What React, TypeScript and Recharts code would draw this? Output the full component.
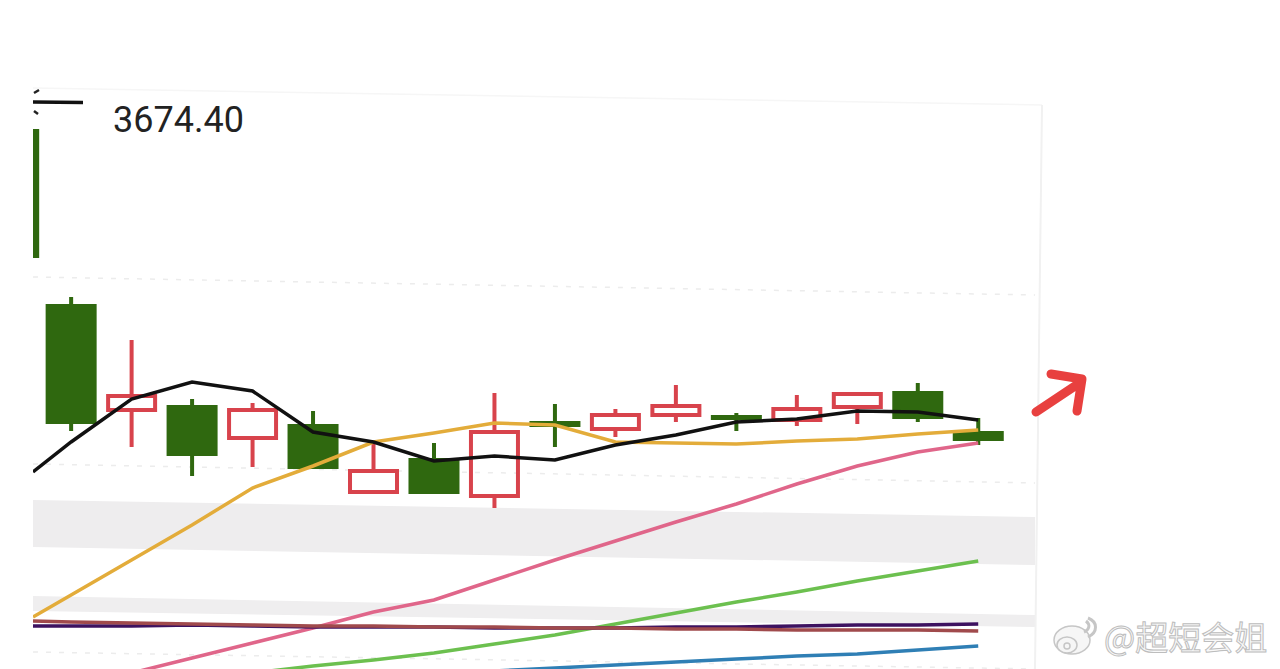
import { Area, Bar, ComposedChart, Line, XAxis, YAxis } from 'recharts'

const candleIndex = [-0.95, 0, 1, 2, 3, 4, 5, 6, 7, 8, 9, 10, 11, 12, 13, 14, 15]
const highs = [3669, 3585, 3563.5, 3534, 3532, 3528, 3512, 3512, 3537, 3531.5, 3529, 3541, 3527, 3536, 3537.5, 3542, 3524.5]
const opens = [3669, 3581.5, 3527.5, 3531, 3513.5, 3521.5, 3486.5, 3504.5, 3484.5, 3523, 3518, 3525, 3526, 3522.5, 3529, 3538, 3518]
const closes = [3604.5, 3521.5, 3536.5, 3505.5, 3529.5, 3499, 3499, 3486.5, 3518.5, 3520, 3527, 3531.5, 3523.5, 3530, 3537.5, 3524, 3513]
const lows = [3604.5, 3518, 3510, 3495.5, 3500, 3499, 3486.5, 3486.5, 3479.5, 3510, 3515, 3522.5, 3518, 3520.5, 3521.5, 3522.5, 3511]

const lineIndex = [-0.63, 0, 1, 2, 3, 4, 5, 6, 7, 8, 9, 10, 11, 12, 13, 14, 15]
const ma5 = [3497.5, 3512.5, 3534, 3542.5, 3538, 3517.5, 3512.5, 3503, 3505.5, 3503.5, 3511, 3516, 3522.5, 3524, 3528, 3527.5, 3523.5]
const ma10 = [3425, 3436, 3453.5, 3471, 3489.5, 3500.5, 3512.5, 3517, 3522, 3521, 3512.5, 3512, 3511.5, 3513, 3514, 3516.5, 3518.5]
const ma20 = [null, null, 3397, 3404.5, 3412, 3419.5, 3427.5, 3433.5, 3443.5, 3453.5, 3463, 3472.5, 3481.5, 3491.5, 3500.5, 3507.5, 3512]
const ma30 = [null, null, null, null, 3397, 3400.5, 3403.5, 3407, 3411.5, 3416, 3421.5, 3427, 3432.5, 3437.5, 3443, 3448, 3453]
const ma60 = [null, null, null, null, null, null, null, null, 3398, 3399.5, 3401, 3402.5, 3404, 3405.5, 3406.5, 3408.5, 3410.5]
const ma120 = [3420.5, 3420.5, 3420.5, 3421, 3420.5, 3420, 3420, 3420, 3419.5, 3419.5, 3419.5, 3420, 3420, 3420.5, 3421, 3421, 3421.5]
const ma250 = [3423, 3422.5, 3422, 3421.5, 3421, 3420.5, 3420.5, 3420, 3420, 3419.5, 3419.5, 3419, 3419, 3418.5, 3418.5, 3418.5, 3418]

// gray gaps and dashed price levels, left and right end of the panel
const edgeIndex = [-0.63, 15.94]
const gapUpper = [[3460, 3483.5], [3451, 3475]]
const gapLower = [[3428, 3435.5], [3420, 3426]]
const gridHigh = [3595, 3586]
const gridMid = [3501.5, 3492]
const gridLow = [3407.5, 3399]

const allIndex = [...new Set([...candleIndex, ...lineIndex, ...edgeIndex])].sort((a, b) => a - b)

const chartData = allIndex.map((x) => {
  const c = candleIndex.indexOf(x)
  const l = lineIndex.indexOf(x)
  const e = edgeIndex.indexOf(x)
  return {
    x,
    range: c >= 0 ? [lows[c], highs[c]] : null,
    open: c >= 0 ? opens[c] : null,
    close: c >= 0 ? closes[c] : null,
    high: c >= 0 ? highs[c] : null,
    low: c >= 0 ? lows[c] : null,
    ma5: l >= 0 ? ma5[l] : null,
    ma10: l >= 0 ? ma10[l] : null,
    ma20: l >= 0 ? ma20[l] : null,
    ma30: l >= 0 ? ma30[l] : null,
    ma60: l >= 0 ? ma60[l] : null,
    ma120: l >= 0 ? ma120[l] : null,
    ma250: l >= 0 ? ma250[l] : null,
    gapUpper: e >= 0 ? gapUpper[e] : null,
    gapLower: e >= 0 ? gapLower[e] : null,
    gridHigh: e >= 0 ? gridHigh[e] : null,
    gridMid: e >= 0 ? gridMid[e] : null,
    gridLow: e >= 0 ? gridLow[e] : null,
  }
})

const RED = '#d8434c'
const GREEN = '#2f680f'
const BODY_WIDTH = 51

function Candle(props: any) {
  const { x, y, width, height, payload } = props
  if (!payload || payload.open == null || !height) return null
  const perUnit = height / (payload.high - payload.low)
  const top = Math.max(payload.open, payload.close)
  const bottom = Math.min(payload.open, payload.close)
  const bodyY = y + (payload.high - top) * perUnit
  const bodyH = (top - bottom) * perUnit
  const cx = x + width / 2
  const left = cx - BODY_WIDTH / 2
  const rising = payload.close >= payload.open
  const color = rising ? RED : GREEN
  if (rising) {
    return (
      <g>
        <line x1={cx} x2={cx} y1={y} y2={bodyY} stroke={color} strokeWidth={4} />
        <line x1={cx} x2={cx} y1={bodyY + bodyH} y2={y + height} stroke={color} strokeWidth={4} />
        <rect x={left + 2} y={bodyY + 2} width={BODY_WIDTH - 4} height={Math.max(bodyH - 4, 1)} fill="none" stroke={color} strokeWidth={4} />
      </g>
    )
  }
  return (
    <g>
      <line x1={cx} x2={cx} y1={y} y2={y + height} stroke={color} strokeWidth={4} />
      <rect x={left} y={bodyY} width={BODY_WIDTH} height={bodyH} fill={color} />
    </g>
  )
}

function Overlay() {
  return (
    <svg width={1280} height={669} style={{ position: 'absolute', left: 0, top: 0, pointerEvents: 'none' }}>
      <line x1={33} y1={88} x2={1042} y2={105} stroke="#f6f6f6" strokeWidth={1.5} />
      <line x1={1042} y1={105} x2={1035} y2={669} stroke="#f1f1f1" strokeWidth={2} />
      <line x1={33} y1={102} x2={83} y2={102.5} stroke="#111" strokeWidth={3.5} />
      <line x1={34} y1={93} x2={39} y2={90} stroke="#222" strokeWidth={2.5} />
      <line x1={34} y1={111} x2={38} y2={114} stroke="#222" strokeWidth={2.5} />
      <text x={113} y={131.5} fontFamily="Roboto" fontSize={36} fill="#222">3674.40</text>
      <path
        d="M1036 412 L1081 382 M1051 374 L1082 379 L1077 411"
        fill="none"
        stroke="#e8403f"
        strokeWidth={9}
        strokeLinecap="round"
        strokeLinejoin="round"
      />
      <g fill="#f6f6f6" stroke="#c6c6c6" strokeWidth={1.5}>
        <ellipse cx={1072} cy={640} rx={18} ry={14} />
        <ellipse cx={1067} cy={645} rx={10} ry={8} />
        <circle cx={1067} cy={646} r={3} />
        <path d="M1084 632 C1089 630 1091 625 1086 621" fill="none" strokeWidth={3} />
        <path d="M1088 637 C1098 632 1098 622 1088 618" fill="none" strokeWidth={3} />
        <text
          x={1104}
          y={650}
          fontFamily="Noto Sans CJK SC"
          fontSize={33}
          fill="#f8f8f8"
          stroke="#bdbdbd"
          strokeWidth={1}
        >
          @超短会姐
        </text>
      </g>
    </svg>
  )
}

export default function App() {
  return (
    <div style={{ position: 'absolute', left: 0, top: 0, width: 1280, height: 669, background: '#fff', overflow: 'hidden' }}>
      <ComposedChart
        width={1280}
        height={669}
        data={chartData}
        margin={{ top: 0, right: 0, bottom: 0, left: 33 }}
      >
        <XAxis dataKey="x" type="number" domain={[-0.63, 19.99]} allowDataOverflow hide />
        <YAxis type="number" domain={[3399, 3733.5]} allowDataOverflow hide />
        <Area dataKey="gapUpper" stroke="none" fill="#eeedee" fillOpacity={1} connectNulls dot={false} activeDot={false} isAnimationActive={false} />
        <Area dataKey="gapLower" stroke="none" fill="#efeeef" fillOpacity={1} connectNulls dot={false} activeDot={false} isAnimationActive={false} />
        <Area dataKey="gridHigh" stroke="#ececec" strokeWidth={1.5} strokeDasharray="5 8" fill="none" connectNulls dot={false} activeDot={false} isAnimationActive={false} />
        <Area dataKey="gridMid" stroke="#ececec" strokeWidth={1.5} strokeDasharray="5 8" fill="none" connectNulls dot={false} activeDot={false} isAnimationActive={false} />
        <Area dataKey="gridLow" stroke="#ececec" strokeWidth={1.5} strokeDasharray="5 8" fill="none" connectNulls dot={false} activeDot={false} isAnimationActive={false} />
        <Bar dataKey="range" barSize={50} shape={Candle} isAnimationActive={false} />
        <Line dataKey="ma60" stroke="#2f7fb5" strokeWidth={3.5} connectNulls dot={false} activeDot={false} isAnimationActive={false} />
        <Line dataKey="ma30" stroke="#6cc04f" strokeWidth={3.5} connectNulls dot={false} activeDot={false} isAnimationActive={false} />
        <Line dataKey="ma20" stroke="#e0668a" strokeWidth={3.5} connectNulls dot={false} activeDot={false} isAnimationActive={false} />
        <Line dataKey="ma120" stroke="#3d1260" strokeWidth={3.5} connectNulls dot={false} activeDot={false} isAnimationActive={false} />
        <Line dataKey="ma250" stroke="#a04a4c" strokeWidth={3.5} connectNulls dot={false} activeDot={false} isAnimationActive={false} />
        <Line dataKey="ma10" stroke="#e3ac3a" strokeWidth={3.5} connectNulls dot={false} activeDot={false} isAnimationActive={false} />
        <Line dataKey="ma5" stroke="#111" strokeWidth={3.5} connectNulls dot={false} activeDot={false} isAnimationActive={false} />
      </ComposedChart>
      <Overlay />
    </div>
  )
}
